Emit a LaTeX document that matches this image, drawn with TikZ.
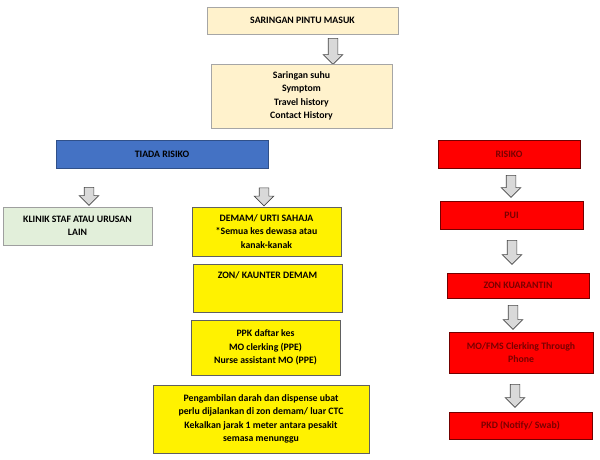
\documentclass[tikz,border=0pt]{standalone}
\usepackage{fontspec}
\setmainfont{Carlito}
\usepackage{tikz}
\usetikzlibrary{shapes,shapes.arrows}
\definecolor{peach}{HTML}{FFF2CC}
\definecolor{tblue}{HTML}{4472C4}
\definecolor{lgreen}{HTML}{E2EFDA}
\definecolor{darkred}{HTML}{7A0000}
\definecolor{arrowgray}{HTML}{D9D9D9}
\tikzstyle{box}=[rectangle, draw=gray!85!black, line width=0.6pt, inner sep=0pt, align=center, font=\bfseries\fontsize{9.8}{13.5}\selectfont]
\tikzstyle{peachBox}=[box, fill=peach, draw=gray!70]
\tikzstyle{blueBox}=[box, fill=tblue, draw=tblue!70!black]
\tikzstyle{redBox}=[box, fill=red, draw=red!45!black, text=darkred]
\tikzstyle{greenBox}=[box, fill=lgreen, draw=gray!75]
\tikzstyle{yellowBox}=[box, fill=yellow, draw=gray!75!black]
\tikzstyle{downArrow}=[single arrow, shape border rotate=270, fill=arrowgray, draw=gray!55!black, line width=0.6pt, inner sep=4.5pt, single arrow head extend=5pt]

\begin{document}
\begin{tikzpicture}[x=1pt, y=-1pt]
      \useasboundingbox (0,0) rectangle (600,459);
      % top of the chart
      \node(sar) [peachBox, minimum width=191pt, minimum height=27pt] at (302.5, 20.5){SARINGAN PINTU MASUK};
      \node(a0) [downArrow, minimum height=26pt] at (333, 49){};
      \node(suhu) [peachBox, minimum width=181pt, minimum height=64pt] at (301.5, 96){Saringan suhu\\Symptom\\Travel history\\Contact History};
      % left branch
      \node(tiada) [blueBox, minimum width=212pt, minimum height=28pt] at (162, 154){TIADA RISIKO};
      \node(a1) [downArrow, minimum height=18pt] at (89, 194){};
      \node(a2) [downArrow, minimum height=18pt] at (264, 194.5){};
      \node(klinik) [greenBox, minimum width=149pt, minimum height=38pt] at (77.5, 226){KLINIK STAF ATAU URUSAN\\LAIN};
      \node(demam) [yellowBox, minimum width=149pt, minimum height=49pt] at (266.5, 231.5){DEMAM/ URTI SAHAJA\\*Semua kes dewasa atau\\kanak-kanak};
      \node(zon) [yellowBox, minimum width=149pt, minimum height=48pt, label={[font=\bfseries\fontsize{9.8}{13.5}\selectfont, anchor=north, yshift=-4pt]north:ZON/ KAUNTER DEMAM}] at (267.5, 288){};
      \node(ppk) [yellowBox, minimum width=149pt, minimum height=55pt] at (265.5, 347.5){PPK daftar kes\\MO clerking (PPE)\\Nurse assistant MO (PPE)};
      \node(ambil) [yellowBox, minimum width=216pt, minimum height=68pt] at (261, 419){Pengambilan darah dan dispense ubat\\perlu dijalankan di zon demam/ luar CTC\\Kekalkan jarak 1 meter antara pesakit\\semasa menunggu};
      % right branch
      \node(risk) [redBox, minimum width=142pt, minimum height=28pt] at (509, 154){RISIKO};
      \node(a3) [downArrow, minimum height=22pt] at (511, 184){};
      \node(pui) [redBox, minimum width=143pt, minimum height=28pt] at (511.5, 215){PUI};
      \node(a4) [downArrow, minimum height=24pt] at (512, 250){};
      \node(kuar) [redBox, minimum width=142pt, minimum height=25pt] at (518, 285.5){ZON KUARANTIN};
      \node(a5) [downArrow, minimum height=24pt] at (513, 315){};
      \node(mofms) [redBox, minimum width=144pt, minimum height=41pt] at (521, 352.5){MO/FMS Clerking Through\\Phone};
      \node(a6) [downArrow, minimum height=23pt] at (515, 393.5){};
      \node(pkd) [redBox, minimum width=143pt, minimum height=27pt] at (520.5, 425.5){PKD (Notify/ Swab)};
    \end{tikzpicture}
\end{document}
